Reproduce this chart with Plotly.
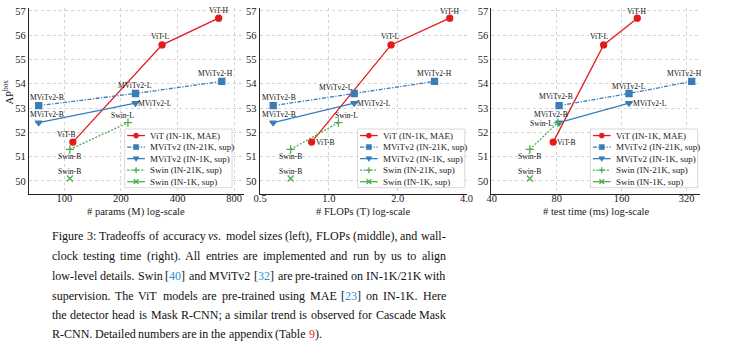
import re
import numpy as np
import plotly.graph_objects as go

# ------------------------------------------------------------------ data
vit_names = ["ViT-B", "ViT-L", "ViT-H"]
vit_params = [111, 331, 662]
vit_flops = [0.84, 1.87, 3.38]
vit_time = [77, 132, 189]
vit_ap = [51.6, 55.6, 56.7]

mvit21_names = ["MViTv2-B", "MViTv2-L", "MViTv2-H"]
mvit21_params = [73, 239, 688]
mvit21_flops = [0.57, 1.29, 2.9]
mvit21_time = [82, 173, 338]
mvit21_ap = [53.1, 53.6, 54.1]

mvit1_names = ["MViTv2-B", "MViTv2-L"]
mvit1_params = [73, 239]
mvit1_flops = [0.57, 1.29]
mvit1_time = [82, 173]
mvit1_ap = [52.4, 53.2]

swin21_names = ["Swin-B", "Swin-L"]
swin21_params = [107, 218]
swin21_flops = [0.68, 1.1]
swin21_time = [60, 81]
swin21_ap = [51.3, 52.4]

swin1_names = ["Swin-B"]
swin1_params = [107]
swin1_flops = [0.68]
swin1_time = [60]
swin1_ap = [50.1]

series_labels = ["ViT (IN-1K, MAE)", "MViTv2 (IN-21K, sup)", "MViTv2 (IN-1K, sup)",
                 "Swin (IN-21K, sup)", "Swin (IN-1K, sup)"]

x_titles = ["# params (M) log-scale", "# FLOPs (T) log-scale", "# test time (ms) log-scale"]
y_title = "AP<sup>box</sup>"
y_tickvals = [50, 51, 52, 53, 54, 55, 56, 57]
x_tickvals = [[100, 200, 400, 800], [0.5, 1, 2, 4], [40, 80, 160, 320]]
x_ticktext = [["100", "200", "400", "800"], ["0.5", "1.0", "2.0", "4.0"], ["40", "80", "160", "320"]]

caption_lines = [
    "Figure 3: Tradeoffs of accuracy <i>vs</i>. model sizes (left), FLOPs (middle), and wall-",
    "clock testing time (right). All entries are implemented and run by us to align",
    "low-level details. Swin [<span style='color:#2a8fd4'>40</span>] and MViTv2 [<span style='color:#2a8fd4'>32</span>] are pre-trained on IN-1K/21K with",
    "supervision. The ViT models are pre-trained using MAE [<span style='color:#2a8fd4'>23</span>] on IN-1K. Here",
    "the detector head is Mask R-CNN; a similar trend is observed for Cascade Mask",
    "R-CNN. Detailed numbers are in the appendix (Table <span style='color:#e8262a'>9</span>).",
]

# ------------------------------------------------------------------ styles
W, H = 747, 359
FONT = "Liberation Serif"
RED, BLUE, GREEN = "#e41a1c", "#377eb8", "#4daf4a"
TXT = "#1a1a1a"

series = [
    dict(names=vit_names, xs=[vit_params, vit_flops, vit_time], y=vit_ap,
         color=RED, dash="solid", symbol="circle"),
    dict(names=mvit21_names, xs=[mvit21_params, mvit21_flops, mvit21_time], y=mvit21_ap,
         color=BLUE, dash="4px,1.5px,1.2px,1.5px", symbol="square"),
    dict(names=mvit1_names, xs=[mvit1_params, mvit1_flops, mvit1_time], y=mvit1_ap,
         color=BLUE, dash="solid", symbol="triangle-down"),
    dict(names=swin21_names, xs=[swin21_params, swin21_flops, swin21_time], y=swin21_ap,
         color=GREEN, dash="2px,1.5px", symbol="cross-thin"),
    dict(names=swin1_names, xs=[swin1_params, swin1_flops, swin1_time], y=swin1_ap,
         color=GREEN, dash="solid", symbol="x-thin"),
]

# label offsets (xshift px, yshift px, xanchor) per panel / series / point
label_offsets = [
    [[(-6, 8, "center"), (-2, 8, "center"), (0, 8, "center")],
     [(8, 8, "center"), (0, 8, "center"), (-6, 8, "center")],
     [(8, 8, "center"), (3, 0, "left")],
     [(0, -7, "center"), (-5, 7, "center")],
     [(0, 7, "center")]],
    [[(4, 0, "left"), (-1, 8, "center"), (0, 7, "center")],
     [(6, 8, "center"), (-18, 6, "center"), (0, 8, "center")],
     [(6, 8, "center"), (3, 0, "left")],
     [(0, -7, "center"), (8, 7, "center")],
     [(0, 7, "center")]],
    [[(4, 0, "left"), (-4, 8, "center"), (0, 7, "center")],
     [(-3, 9, "center"), (0, 7, "center"), (-7, 8, "center")],
     [(-8, 8, "center"), (4, 0, "left")],
     [(0, -7, "center"), (-5, -1, "right")],
     [(0, 7, "center")]],
]

# panel geometry in pixels
x_px = [(23.3, 241.7), (257.7, 468.5), (493.3, 705.0)]
x_ranges = [(64.8, 901.0), (0.497, 4.02), (39.8, 368.0)]
y_px = (6.0, 192.7)
y_range = (49.48, 57.12)
legend_left = [120.7, 357.3, 594.0]
legend_top, legend_w, legend_h = 127.7, 109.0, 59.0


def px_x(px):
    return px / W


def px_y(py):
    return 1 - py / H


fig = go.Figure()

for p in range(3):
    xa = "x" if p == 0 else f"x{p+1}"
    ya = "y" if p == 0 else f"y{p+1}"
    for s in series:
        fig.add_trace(go.Scatter(
            x=s["xs"][p], y=s["y"], xaxis=xa, yaxis=ya, mode="lines+markers",
            line=dict(color=s["color"], width=1.3, dash=s["dash"]),
            marker=dict(symbol=s["symbol"], size=6, color=s["color"],
                        line=dict(color=s["color"], width=1.3)),
            showlegend=False, hoverinfo="skip"))

axis_common = dict(showgrid=True, gridcolor="#d4d4d4", griddash="dot", gridwidth=0.8,
                   showline=True, linecolor="#222222", linewidth=1, ticks="",
                   zeroline=False, tickfont=dict(family=FONT, size=10.5, color=TXT))

layout = dict(width=W, height=H, margin=dict(l=0, r=0, t=0, b=0),
              paper_bgcolor="white", plot_bgcolor="white", showlegend=False)
for p in range(3):
    sx = "" if p == 0 else str(p + 1)
    layout[f"xaxis{sx}"] = dict(
        type="log", domain=[px_x(x_px[p][0]), px_x(x_px[p][1])],
        range=[np.log10(x_ranges[p][0]), np.log10(x_ranges[p][1])],
        tickvals=x_tickvals[p], ticktext=x_ticktext[p], anchor=f"y{sx}",
        ticklabelstandoff=-5, **axis_common)
    layout[f"yaxis{sx}"] = dict(
        domain=[px_y(y_px[1]), px_y(y_px[0])], range=list(y_range),
        tickvals=y_tickvals, anchor=f"x{sx}", **axis_common)
fig.update_layout(**layout)

annotations = []
shapes = []

# point labels
for p in range(3):
    xa = "x" if p == 0 else f"x{p+1}"
    ya = "y" if p == 0 else f"y{p+1}"
    for si, s in enumerate(series):
        for k, name in enumerate(s["names"]):
            dx, dy, anc = label_offsets[p][si][k]
            annotations.append(dict(
                x=np.log10(s["xs"][p][k]), y=s["y"][k], xref=xa, yref=ya, text=name,
                showarrow=False, xanchor=anc, yanchor="middle", xshift=dx, yshift=dy,
                font=dict(family=FONT, size=7.6, color="#111111"),
                borderpad=0, borderwidth=0))

# axis titles
for p in range(3):
    cx = (x_px[p][0] + x_px[p][1]) / 2
    annotations.append(dict(x=px_x(cx), y=px_y(211), xref="paper", yref="paper",
                            text=x_titles[p], showarrow=False, xanchor="center",
                            yanchor="middle", borderpad=0, borderwidth=0,
                            font=dict(family=FONT, size=10.5, color=TXT)))
annotations.append(dict(x=px_x(2), y=px_y(90), xref="paper", yref="paper", text=y_title,
                        showarrow=False, textangle=-90, xanchor="center", yanchor="middle",
                        borderpad=0, borderwidth=0,
                        font=dict(family=FONT, size=10.5, color=TXT)))

# legends (drawn manually for compact rows)
for p in range(3):
    L = legend_left[p]
    shapes.append(dict(type="rect", xref="paper", yref="paper", layer="above",
                       x0=px_x(L), x1=px_x(L + legend_w), y0=px_y(legend_top + legend_h),
                       y1=px_y(legend_top), fillcolor="rgba(255,255,255,0.9)",
                       line=dict(color="#cfcfcf", width=0.8)))
    for i, s in enumerate(series):
        cy = legend_top + 6.6 + 11.6 * i
        x0, x1 = L + 2.5, L + 20.5
        cx = (x0 + x1) / 2
        shapes.append(dict(type="line", xref="paper", yref="paper", layer="above",
                           x0=px_x(x0), x1=px_x(x1), y0=px_y(cy), y1=px_y(cy),
                           line=dict(color=s["color"], width=1.3, dash=s["dash"])))
        r = 2.6
        sym = s["symbol"]
        c = s["color"]
        if sym == "circle":
            shapes.append(dict(type="circle", xref="paper", yref="paper", layer="above",
                               x0=px_x(cx - r), x1=px_x(cx + r), y0=px_y(cy + r), y1=px_y(cy - r),
                               fillcolor=c, line=dict(color=c, width=0.5)))
        elif sym == "square":
            shapes.append(dict(type="rect", xref="paper", yref="paper", layer="above",
                               x0=px_x(cx - r), x1=px_x(cx + r), y0=px_y(cy + r), y1=px_y(cy - r),
                               fillcolor=c, line=dict(color=c, width=0.5)))
        elif sym == "triangle-down":
            path = (f"M {px_x(cx-3)},{px_y(cy-2)} L {px_x(cx+3)},{px_y(cy-2)} "
                    f"L {px_x(cx)},{px_y(cy+3)} Z")
            shapes.append(dict(type="path", xref="paper", yref="paper", layer="above",
                               path=path, fillcolor=c, line=dict(color=c, width=0.5)))
        elif sym == "cross-thin":
            path = (f"M {px_x(cx-3)},{px_y(cy)} L {px_x(cx+3)},{px_y(cy)} "
                    f"M {px_x(cx)},{px_y(cy-3)} L {px_x(cx)},{px_y(cy+3)}")
            shapes.append(dict(type="path", xref="paper", yref="paper", layer="above",
                               path=path, line=dict(color=c, width=1.3)))
        else:
            path = (f"M {px_x(cx-2.4)},{px_y(cy-2.4)} L {px_x(cx+2.4)},{px_y(cy+2.4)} "
                    f"M {px_x(cx-2.4)},{px_y(cy+2.4)} L {px_x(cx+2.4)},{px_y(cy-2.4)}")
            shapes.append(dict(type="path", xref="paper", yref="paper", layer="above",
                               path=path, line=dict(color=c, width=1.3)))
        annotations.append(dict(x=px_x(L + 25.5), y=px_y(cy), xref="paper", yref="paper",
                                text=series_labels[i], showarrow=False, xanchor="left",
                                yanchor="middle", borderpad=0, borderwidth=0,
                                font=dict(family=FONT, size=9, color=TXT)))

# caption, justified word by word using Times metrics
TIMES = {" ": 250, "(": 333, ")": 333, ",": 250, "-": 333, ".": 250, "/": 278, ":": 278,
         ";": 278, "[": 333, "]": 333}
for d in "0123456789":
    TIMES[d] = 500
TIMES.update(dict(zip("ABCDEFGHIJKLMNOPQRSTUVWXYZ",
                      [722, 667, 667, 722, 611, 556, 722, 722, 333, 389, 722, 611, 889, 722,
                       722, 556, 722, 667, 556, 611, 722, 722, 944, 722, 722, 611])))
TIMES.update(dict(zip("abcdefghijklmnopqrstuvwxyz",
                      [444, 500, 444, 500, 444, 333, 500, 500, 278, 278, 500, 278, 778, 500,
                       500, 500, 500, 333, 389, 278, 500, 500, 722, 500, 500, 444])))


def plain(t):
    return re.sub(r"<[^>]+>", "", t)


def em_width(t):
    return sum(TIMES.get(ch, 500) for ch in plain(t)) / 1000.0


cap_left, cap_right = 46.7, 446.7
cap_w = cap_right - cap_left
cap_y = [235.7, 255.7, 275.7, 295.7, 315.2, 334.0]
max_em = max(em_width(l) for l in caption_lines[:-1])
cap_size = min(14.0, 0.985 * cap_w / max_em)

for li, line in enumerate(caption_lines):
    words = line.split(" ")
    merged = []
    for w in words:
        if merged and merged[-1].count("<span") > merged[-1].count("</span>"):
            merged[-1] += " " + w
        else:
            merged.append(w)
    widths = [em_width(w) * cap_size for w in merged]
    if li < len(caption_lines) - 1 and len(merged) > 1:
        gap = (cap_w - sum(widths)) / (len(merged) - 1)
    else:
        gap = TIMES[" "] / 1000.0 * cap_size
    x = cap_left
    for w, wd in zip(merged, widths):
        annotations.append(dict(x=px_x(x), y=px_y(cap_y[li]), xref="paper", yref="paper",
                                text=w, showarrow=False, xanchor="left", yanchor="middle",
                                borderpad=0, borderwidth=0,
                                font=dict(family=FONT, size=cap_size, color="#111111")))
        x += wd + gap

fig.update_layout(annotations=annotations, shapes=shapes)
fig.write_html("out.html", config={"displayModeBar": False},
               post_script="document.body.style.margin='0px';document.body.style.padding='0px';")
